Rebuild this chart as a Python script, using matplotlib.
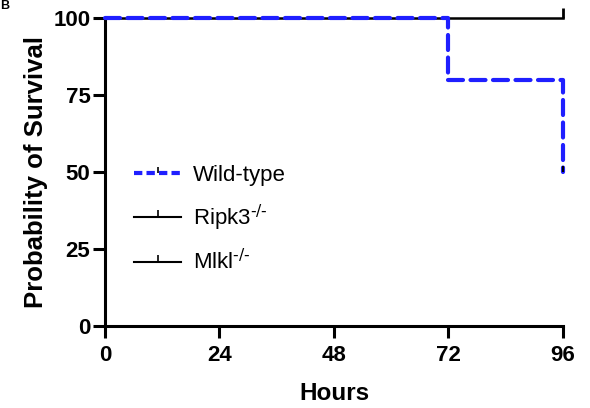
import matplotlib
matplotlib.use("Agg")
import matplotlib.pyplot as plt
from matplotlib.lines import Line2D

plt.rcParams['font.family'] = ['Liberation Sans', 'DejaVu Sans']

# survival data (step curves)
wt_hours = [0, 72, 96, 96]
wt_surv = [100, 80, 80, 50]
ko_hours = [0, 96]
ko_surv = [100, 100]
xticks = [0, 24, 48, 72, 96]
yticks = [0, 25, 50, 75, 100]
labels = ['Wild-type', 'Ripk3$^{\\text{-/-}}$', 'Mlkl$^{\\text{-/-}}$']

blue = '#1f1fff'

fig = plt.figure(figsize=(5.9, 4.08), dpi=100)
ax = fig.add_axes([0.178, 0.201, 0.776, 0.755])

# knockouts overlap at 100%
ax.plot(ko_hours, ko_surv, color='black', lw=1.8, drawstyle='steps-post',
        clip_on=False, zorder=2)
ax.plot(ko_hours[-1:], ko_surv[-1:], marker=2, color='black', ms=7, mew=2,
        clip_on=False, zorder=2)
ax.plot(wt_hours, wt_surv, color=blue, lw=3, drawstyle='steps-post',
        ls=(0, (3.6, 1.8)), dash_capstyle='round', clip_on=False, zorder=3)
ax.plot(wt_hours[-1:], wt_surv[-1:], marker=2, color='black', ms=4, mew=1.5,
        clip_on=False, zorder=4)

ax.set_xlim(0, 96)
ax.set_ylim(0, 100)
ax.set_xticks(xticks)
ax.set_yticks(yticks)
ax.spines['top'].set_visible(False)
ax.spines['right'].set_visible(False)
for s in ['left', 'bottom']:
    ax.spines[s].set_linewidth(2.2)
ax.tick_params(width=2.2, length=8.5, labelsize=16)
ax.tick_params(axis='x', pad=5)
ax.tick_params(axis='y', pad=2)
for t in ax.get_xticklabels() + ax.get_yticklabels():
    t.set_fontweight('bold')

ax.set_xlabel('Hours', fontsize=17.5, fontweight='bold', labelpad=12)
ax.set_ylabel('Probability of Survival', fontsize=18.5, fontweight='bold', labelpad=4)

handles = [
    Line2D([], [], color=blue, lw=3, ls=(0, (2.0, 1.0)), marker=2, ms=4,
           mec='black', mew=1.2),
    Line2D([], [], color='black', lw=1.5, marker=2, ms=5, mew=1.2),
    Line2D([], [], color='black', lw=1.5, marker=2, ms=5, mew=1.2),
]
ax.legend(handles, labels, loc='center left', bbox_to_anchor=(0.02, 0.345),
          frameon=False, fontsize=16, handlelength=2.1, labelspacing=0.75,
          handletextpad=0.55)

fig.text(0.0, 1.0, 'B', fontsize=9, fontweight='bold', va='top', ha='left')

fig.savefig('out.png', dpi=100)
